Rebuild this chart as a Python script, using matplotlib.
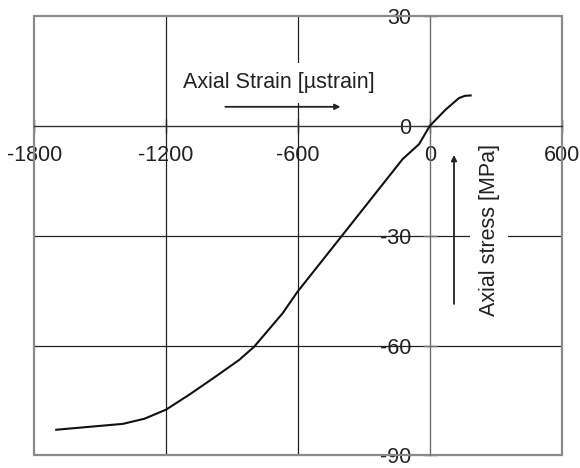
import numpy as np
import matplotlib.pyplot as plt
from matplotlib.patches import Rectangle

# valores
deformacion = [-1700, -1397, -1299, -1200, -1094, -973, -867, -799, -670, -602,
               -405, -124, -49, 0, 73, 133, 160, 186]
tension = [-83.0, -81.4, -80.0, -77.5, -73.4, -68.4, -63.9, -60.3, -51.2, -45.3,
           -30.4, -9.1, -5.0, 0.0, 4.5, 7.6, 8.2, 8.3]

xticks = [-1800, -1200, -600, 0, 600]
yticks = [-90, -60, -30, 0, 30]

plt.rcParams["font.family"] = ["Liberation Sans", "DejaVu Sans"]

fig = plt.figure(figsize=(5.8, 4.68), dpi=100)
ax = fig.add_axes([0.0591, 0.027, 0.9093, 0.9388])
ax.set_xlim(-1800, 600)
ax.set_ylim(-90, 30)

# rejilla interior
for xv in [-1200, -600]:
    ax.axvline(xv, color="#222222", lw=0.9, zorder=1)
for yv in [-30, -60]:
    ax.axhline(yv, color="#222222", lw=0.9, zorder=1)

# marco gris
ax.add_patch(Rectangle((0, 0), 1, 1, transform=ax.transAxes, fill=False,
                       edgecolor="#8a8a8a", lw=1.6, clip_on=False, zorder=2))
ax.spines["top"].set_visible(False)
ax.spines["right"].set_visible(False)
ax.spines["left"].set_position(("data", 0))
ax.spines["bottom"].set_position(("data", 0))
ax.spines["left"].set_color("#707070")
ax.spines["bottom"].set_color("#333333")
ax.spines["left"].set_linewidth(1.0)
ax.spines["bottom"].set_linewidth(1.0)

ax.set_xticks(xticks)
ax.set_yticks(yticks)
ax.set_xticklabels([str(v) for v in xticks])
ax.set_yticklabels([str(v) for v in yticks])
ax.tick_params(axis="both", direction="inout", length=10, width=1.0,
               labelsize=15.5, colors="#222222", pad=8.5)
ax.tick_params(axis="y", colors="#707070", labelcolor="#222222")

# curva
ax.plot(deformacion, tension, color="#111111", lw=1.5, zorder=4)

# etiquetas con flechas
ax.text(-1124, 10.2, "Axial Strain [µstrain]", fontsize=15.5, color="#222222",
        ha="left", va="baseline", zorder=3,
        bbox=dict(boxstyle="square,pad=0.45", fc="white", ec="none"))
ax.annotate("", xy=(-394, 5.2), xytext=(-943, 5.2),
            arrowprops=dict(arrowstyle="-|>", color="#222222", lw=1.3,
                            mutation_scale=8), zorder=5)

ax.text(270, -28.4, "Axial stress [MPa]", fontsize=15.5, color="#222222",
        rotation=90, ha="center", va="center", zorder=3,
        bbox=dict(boxstyle="square,pad=0.4", fc="white", ec="none"))
ax.annotate("", xy=(110, -7.2), xytext=(110, -49.4),
            arrowprops=dict(arrowstyle="-|>", color="#222222", lw=1.3,
                            mutation_scale=8), zorder=5)

fig.savefig("out.png", dpi=100)
